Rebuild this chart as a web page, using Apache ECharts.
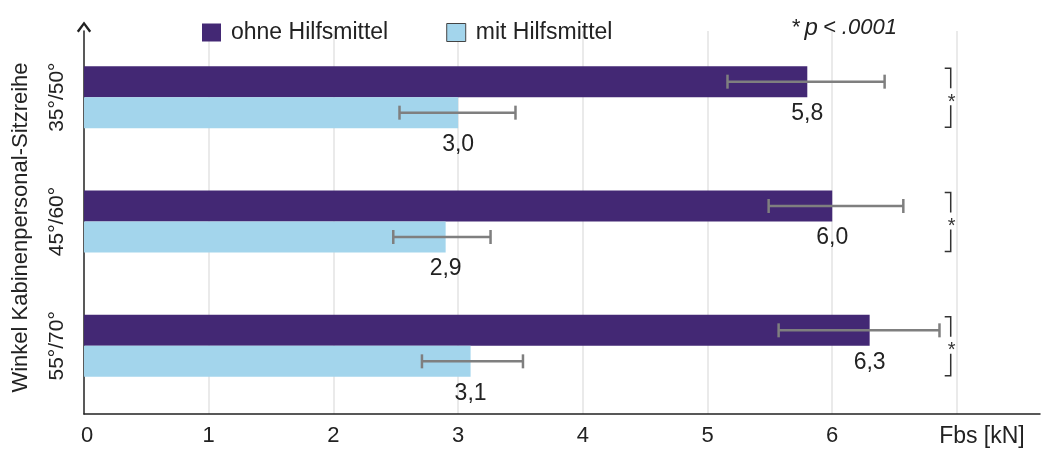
<!DOCTYPE html>
<html>
<head>
<meta charset="utf-8">
<script src="https://cdn.jsdelivr.net/npm/echarts@6/dist/echarts.min.js"></script>
<style>
  html, body { margin: 0; padding: 0; background: #fff; }
  #chart { width: 1043px; height: 451px; }
</style>
</head>
<body>
<div id="chart"></div>
<script>
// Daten
const categories = ["35°/50°", "45°/60°", "55°/70°"];
const ohneValues = [5.8, 6.0, 6.3];
const mitValues = [3.0, 2.9, 3.1];
const ohneLow = [5.16, 5.49, 5.57];
const ohneHigh = [6.42, 6.57, 6.86];
const mitLow = [2.53, 2.48, 2.71];
const mitHigh = [3.46, 3.26, 3.52];
const sigMarks = ["*", "*", "*"];
const xTickLabels = ["0", "1", "2", "3", "4", "5", "6", "Fbs [kN]"];

const FONT = "'Liberation Sans', Arial, sans-serif";
const DARK = "#432874";
const LIGHT = "#a3d5ec";
const BAR_W = 31;
const XMAX = 7.666; // Achse läuft über 7 hinaus
const SIG_X = 6.95;

const chart = echarts.init(document.getElementById("chart"));

function errorBar(offset) {
  return function (params, api) {
    const cat = api.value(0);
    const a = api.coord([api.value(1), cat]);
    const b = api.coord([api.value(2), cat]);
    const y = a[1] + offset;
    const st = { stroke: "#7f7f7f", lineWidth: 2.5 };
    return {
      type: "group",
      children: [
        { type: "line", shape: { x1: a[0], y1: y, x2: b[0], y2: y }, style: st },
        { type: "line", shape: { x1: a[0], y1: y - 7, x2: a[0], y2: y + 7 }, style: st },
        { type: "line", shape: { x1: b[0], y1: y - 7, x2: b[0], y2: y + 7 }, style: st }
      ]
    };
  };
}

const valLabel = {
  show: true,
  position: ["100%", "100%"],
  align: "center",
  verticalAlign: "top",
  offset: [0, 5],
  fontFamily: FONT,
  fontSize: 23,
  color: "#222",
  formatter: (p) => p.value.toFixed(1).replace(".", ",")
};

const option = {
  animation: false,
  textStyle: { fontFamily: FONT },
  title: {
    text: "{a|*} {b|p} {a|< .0001}",
    left: 786,
    top: 11,
    textStyle: {
      fontWeight: "normal",
      rich: {
        a: { fontFamily: FONT, fontSize: 22, fontStyle: "italic", fontWeight: "normal", color: "#222" },
        b: { fontFamily: FONT, fontSize: 24, fontStyle: "italic", fontWeight: "normal", color: "#222" }
      }
    }
  },
  legend: {
    left: 197,
    top: 16,
    itemWidth: 19,
    itemHeight: 18,
    itemGap: 58,
    icon: "rect",
    textStyle: { fontFamily: FONT, fontSize: 23, color: "#222", padding: [0, 0, 0, 5] },
    data: [
      { name: "ohne Hilfsmittel" },
      { name: "mit Hilfsmittel", itemStyle: { borderColor: "#444", borderWidth: 1 } }
    ]
  },
  grid: [
    { left: 84, right: 3, top: 35, bottom: 43 },
    { left: 84, right: 3, top: 31, bottom: 37 }
  ],
  xAxis: [
    { gridIndex: 0, type: "value", min: 0, max: XMAX, interval: 1, show: false },
    {
      gridIndex: 1,
      type: "value",
      min: 0,
      max: XMAX,
      interval: 1,
      axisLine: { show: true, lineStyle: { color: "#222", width: 1.5 } },
      axisTick: { show: false },
      splitLine: { show: true, showMinLine: false, showMaxLine: false, lineStyle: { color: "#e3e3e3", width: 1.5 } },
      axisLabel: {
        showMaxLabel: false,
        margin: 11,
        fontFamily: FONT,
        fontSize: 22,
        color: "#222",
        formatter: (v) => {
          const s = xTickLabels[Math.round(v)] || "";
          if (v === 7) return "{n|" + s + "}";
          if (v === 0) return "{z|" + s + "}";
          return s;
        },
        rich: {
          n: { fontFamily: FONT, fontSize: 23, color: "#222", padding: [0, 0, 0, 50] },
          z: { fontFamily: FONT, fontSize: 22, color: "#222", padding: [0, 0, 0, 6] }
        }
      }
    }
  ],
  yAxis: [
    {
      gridIndex: 0,
      type: "category",
      inverse: true,
      data: categories,
      axisLine: { show: false },
      axisTick: { show: false },
      axisLabel: { rotate: 90, margin: 16, fontFamily: FONT, fontSize: 21, color: "#222" },
      name: "Winkel Kabinenpersonal-Sitzreihe",
      nameLocation: "middle",
      nameGap: 52,
      nameTextStyle: { fontFamily: FONT, fontSize: 22, color: "#222", padding: [0, 12, 0, 0] }
    },
    {
      gridIndex: 1,
      type: "value",
      axisLine: {
        show: true,
        symbol: ["none", "path://M0,8 L6,0 L12,8 L10.4,9.2 L6,3.2 L1.6,9.2 Z"],
        symbolSize: [15, 11],
        symbolOffset: [0, 4],
        lineStyle: { color: "#222", width: 1.5 }
      },
      axisTick: { show: false },
      axisLabel: { show: false },
      splitLine: { show: false }
    }
  ],
  series: [
    {
      name: "ohne Hilfsmittel",
      type: "bar",
      xAxisIndex: 0,
      yAxisIndex: 0,
      barWidth: BAR_W,
      barGap: "0%",
      itemStyle: { color: DARK },
      label: valLabel,
      data: ohneValues
    },
    {
      name: "mit Hilfsmittel",
      type: "bar",
      xAxisIndex: 0,
      yAxisIndex: 0,
      barWidth: BAR_W,
      barGap: "0%",
      itemStyle: { color: LIGHT },
      label: valLabel,
      data: mitValues
    },
    {
      type: "custom",
      xAxisIndex: 0,
      yAxisIndex: 0,
      z: 5,
      renderItem: errorBar(-BAR_W / 2),
      data: categories.map((c, i) => [i, ohneLow[i], ohneHigh[i]])
    },
    {
      type: "custom",
      xAxisIndex: 0,
      yAxisIndex: 0,
      z: 5,
      renderItem: errorBar(BAR_W / 2),
      data: categories.map((c, i) => [i, mitLow[i], mitHigh[i]])
    },
    {
      // Signifikanz-Klammern
      type: "custom",
      xAxisIndex: 0,
      yAxisIndex: 0,
      z: 5,
      renderItem: function (params, api) {
        const c = api.coord([SIG_X, api.value(0)]);
        const x = c[0], y = c[1];
        const top = y - BAR_W + 2, bot = y + BAR_W - 1;
        const st = { stroke: "#333", lineWidth: 1.5, fill: null };
        return {
          type: "group",
          children: [
            { type: "polyline", shape: { points: [[x - 6, top], [x, top], [x, y - 9]] }, style: st },
            { type: "polyline", shape: { points: [[x, y + 8], [x, bot], [x - 6, bot]] }, style: st },
            {
              type: "text",
              style: {
                x: x + 1, y: y + 5, text: sigMarks[api.value(0)], align: "center", verticalAlign: "middle",
                fontFamily: FONT, fontSize: 20, fill: "#333"
              }
            }
          ]
        };
      },
      data: categories.map((c, i) => [i])
    }
  ]
};

chart.setOption(option);
</script>
</body>
</html>
